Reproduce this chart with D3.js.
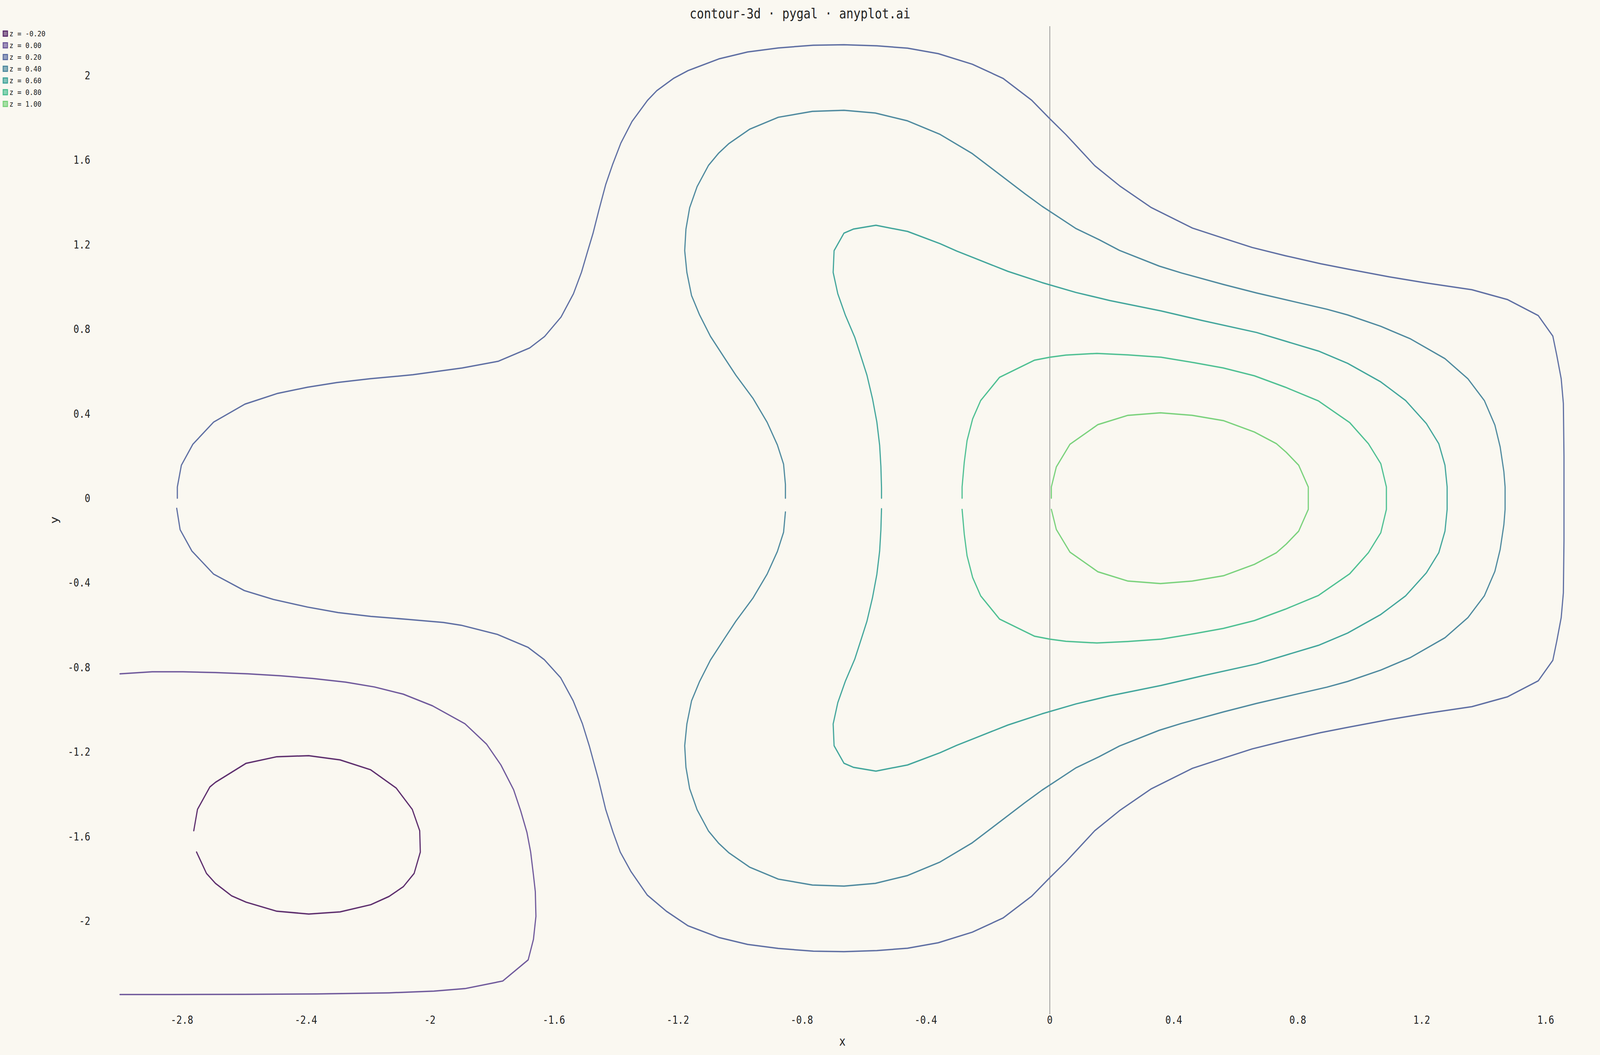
<!DOCTYPE html>
<html lang="en">
<head>
    <meta charset="UTF-8">
    <title>contour-3d · pygal · anyplot.ai</title>
    <script src="https://cdn.jsdelivr.net/npm/d3@7/dist/d3.min.js"></script>
    <style>
        html, body { margin: 0; padding: 0; overflow: hidden; background: #FAF8F1; }
        svg { display: block; width: 100vw; height: 100vh; }
        text { font-family: "DejaVu Sans Mono", monospace; fill: #222; }
    </style>
</head>
<body>
</body>
<script>
    // contour levels (legend order)
    var levels = [-0.2, 0.0, 0.2, 0.4, 0.6, 0.8, 1.0]

    // tick values
    var xTicks = [-2.8, -2.4, -2, -1.6, -1.2, -0.8, -0.4, 0, 0.4, 0.8, 1.2, 1.6]
    var yTicks = [-2, -1.6, -1.2, -0.8, -0.4, 0, 0.4, 0.8, 1.2, 1.6, 2]

    // contour lines (x, y)
    var lineM020 = [
        [-2.762, -1.573], [-2.750, -1.472], [-2.710, -1.366], [-2.692, -1.344], [-2.593, -1.254],
        [-2.494, -1.223], [-2.391, -1.218], [-2.290, -1.238], [-2.191, -1.285], [-2.109, -1.371],
        [-2.057, -1.472], [-2.033, -1.573], [-2.031, -1.674], [-2.051, -1.775], [-2.086, -1.838],
        [-2.132, -1.884], [-2.191, -1.923], [-2.290, -1.957], [-2.391, -1.967], [-2.494, -1.954],
        [-2.593, -1.911], [-2.640, -1.881], [-2.692, -1.822], [-2.721, -1.775], [-2.753, -1.674]
    ]

    var line000 = [
        [-3.000, -0.831], [-2.896, -0.821], [-2.797, -0.821], [-2.692, -0.825], [-2.587, -0.831],
        [-2.482, -0.840], [-2.377, -0.853], [-2.272, -0.870], [-2.179, -0.893], [-2.086, -0.927],
        [-1.992, -0.982], [-1.887, -1.067], [-1.817, -1.164], [-1.771, -1.262], [-1.730, -1.379],
        [-1.707, -1.480], [-1.687, -1.581], [-1.675, -1.674], [-1.666, -1.783], [-1.660, -1.861],
        [-1.658, -1.978], [-1.666, -2.087], [-1.683, -2.184], [-1.765, -2.284], [-1.887, -2.320],
        [-1.987, -2.332], [-2.132, -2.340], [-2.366, -2.345], [-2.599, -2.347], [-2.832, -2.348],
        [-3.000, -2.348]
    ]

    var line020 = [
        [-2.815, 0], [-2.815, 0.053], [-2.802, 0.156], [-2.765, 0.255], [-2.698, 0.360],
        [-2.597, 0.445], [-2.491, 0.496], [-2.395, 0.525], [-2.300, 0.547], [-2.193, 0.565],
        [-2.055, 0.584], [-1.896, 0.616], [-1.779, 0.648], [-1.678, 0.711], [-1.630, 0.765],
        [-1.577, 0.857], [-1.537, 0.967], [-1.511, 1.069], [-1.492, 1.164], [-1.474, 1.252],
        [-1.455, 1.362], [-1.433, 1.483], [-1.411, 1.577], [-1.384, 1.680], [-1.348, 1.782],
        [-1.298, 1.882], [-1.268, 1.928], [-1.213, 1.987], [-1.167, 2.023], [-1.068, 2.078],
        [-0.975, 2.111], [-0.876, 2.130], [-0.763, 2.143], [-0.664, 2.145], [-0.558, 2.140],
        [-0.459, 2.129], [-0.360, 2.103], [-0.250, 2.053], [-0.151, 1.986], [-0.058, 1.882],
        [0, 1.795], [0.052, 1.720], [0.085, 1.668], [0.145, 1.573], [0.225, 1.478],
        [0.326, 1.376], [0.460, 1.278], [0.560, 1.230], [0.653, 1.186], [0.760, 1.147],
        [0.874, 1.109], [0.961, 1.084], [1.095, 1.047], [1.215, 1.018], [1.362, 0.986],
        [1.476, 0.940], [1.576, 0.864], [1.623, 0.767], [1.636, 0.674], [1.650, 0.565],
        [1.657, 0.448], [1.659, 0.199], [1.659, 0],
        [1.659, -0.199], [1.657, -0.448], [1.650, -0.565], [1.636, -0.674], [1.623, -0.767],
        [1.576, -0.864], [1.476, -0.940], [1.362, -0.986], [1.215, -1.018], [1.095, -1.047],
        [0.961, -1.084], [0.874, -1.109], [0.760, -1.147], [0.653, -1.186], [0.560, -1.230],
        [0.460, -1.278], [0.326, -1.376], [0.225, -1.478], [0.145, -1.573], [0.085, -1.668],
        [0.052, -1.720], [0, -1.795], [-0.058, -1.882], [-0.151, -1.986], [-0.250, -2.053],
        [-0.360, -2.103], [-0.459, -2.129], [-0.558, -2.140], [-0.664, -2.145], [-0.763, -2.143],
        [-0.876, -2.130], [-0.975, -2.111], [-1.068, -2.078], [-1.167, -2.023], [-1.237, -1.954],
        [-1.299, -1.877], [-1.351, -1.767], [-1.386, -1.674], [-1.409, -1.581], [-1.433, -1.472],
        [-1.456, -1.332], [-1.485, -1.176], [-1.508, -1.067], [-1.538, -0.958], [-1.578, -0.850],
        [-1.631, -0.764], [-1.683, -0.706], [-1.783, -0.644], [-1.899, -0.601], [-1.957, -0.588],
        [-2.074, -0.573], [-2.191, -0.559], [-2.296, -0.541], [-2.395, -0.515], [-2.505, -0.479],
        [-2.599, -0.437], [-2.698, -0.359], [-2.768, -0.250], [-2.806, -0.149], [-2.817, -0.048]
    ]

    var line040 = [
        [-0.853, 0], [-0.853, 0.065], [-0.859, 0.161], [-0.879, 0.252], [-0.912, 0.359],
        [-0.958, 0.473], [-1.013, 0.582], [-1.048, 0.660], [-1.095, 0.766], [-1.130, 0.867],
        [-1.156, 0.959], [-1.171, 1.068], [-1.178, 1.171], [-1.174, 1.273], [-1.162, 1.374],
        [-1.138, 1.474], [-1.101, 1.575], [-1.068, 1.633], [-1.035, 1.678], [-0.969, 1.745],
        [-0.876, 1.802], [-0.766, 1.830], [-0.664, 1.835], [-0.563, 1.822], [-0.459, 1.785],
        [-0.354, 1.721], [-0.250, 1.630], [-0.146, 1.514], [-0.080, 1.440], [-0.025, 1.381],
        [0.030, 1.328], [0.085, 1.275], [0.159, 1.223], [0.225, 1.172], [0.353, 1.098],
        [0.426, 1.065], [0.560, 1.011], [0.667, 0.971], [0.787, 0.930], [0.894, 0.894],
        [0.961, 0.867], [1.068, 0.813], [1.162, 0.755], [1.275, 0.660], [1.349, 0.565],
        [1.402, 0.462], [1.436, 0.346], [1.453, 0.243], [1.465, 0.126], [1.469, 0.053],
        [1.469, 0],
        [1.469, -0.053], [1.465, -0.126], [1.453, -0.243], [1.436, -0.346], [1.402, -0.462],
        [1.349, -0.565], [1.275, -0.660], [1.162, -0.755], [1.068, -0.813], [0.961, -0.867],
        [0.894, -0.894], [0.787, -0.930], [0.667, -0.971], [0.560, -1.011], [0.426, -1.065],
        [0.353, -1.098], [0.225, -1.172], [0.159, -1.223], [0.085, -1.275], [0.030, -1.328],
        [-0.025, -1.381], [-0.080, -1.440], [-0.146, -1.514], [-0.250, -1.630], [-0.354, -1.721],
        [-0.459, -1.785], [-0.563, -1.822], [-0.664, -1.835], [-0.766, -1.830], [-0.876, -1.802],
        [-0.969, -1.745], [-1.035, -1.678], [-1.068, -1.633], [-1.101, -1.575], [-1.138, -1.474],
        [-1.162, -1.374], [-1.174, -1.273], [-1.178, -1.171], [-1.171, -1.068], [-1.156, -0.959],
        [-1.130, -0.867], [-1.095, -0.766], [-1.048, -0.660], [-1.013, -0.582], [-0.958, -0.473],
        [-0.912, -0.359], [-0.879, -0.252], [-0.859, -0.161], [-0.853, -0.065]
    ]

    var line060 = [
        [-0.543, 0], [-0.543, 0.050], [-0.545, 0.150], [-0.549, 0.250], [-0.558, 0.360],
        [-0.572, 0.470], [-0.590, 0.582], [-0.607, 0.660], [-0.629, 0.760], [-0.660, 0.867],
        [-0.684, 0.967], [-0.699, 1.068], [-0.696, 1.171], [-0.664, 1.254], [-0.634, 1.273],
        [-0.561, 1.291], [-0.459, 1.262], [-0.354, 1.204], [-0.300, 1.169], [-0.245, 1.137],
        [-0.135, 1.073], [-0.025, 1.020], [0.085, 0.973], [0.194, 0.935], [0.359, 0.886],
        [0.493, 0.840], [0.667, 0.784], [0.760, 0.743], [0.867, 0.696], [0.961, 0.638],
        [1.068, 0.550], [1.148, 0.462], [1.215, 0.353], [1.255, 0.258], [1.275, 0.156],
        [1.282, 0.053], [1.282, 0],
        [1.282, -0.053], [1.275, -0.156], [1.255, -0.258], [1.215, -0.353], [1.148, -0.462],
        [1.068, -0.550], [0.961, -0.638], [0.867, -0.696], [0.760, -0.743], [0.667, -0.784],
        [0.493, -0.840], [0.359, -0.886], [0.194, -0.935], [0.085, -0.973], [-0.025, -1.020],
        [-0.135, -1.073], [-0.245, -1.137], [-0.300, -1.169], [-0.354, -1.204], [-0.459, -1.262],
        [-0.561, -1.291], [-0.634, -1.273], [-0.664, -1.254], [-0.696, -1.171], [-0.699, -1.068],
        [-0.684, -0.967], [-0.660, -0.867], [-0.629, -0.760], [-0.607, -0.660], [-0.590, -0.582],
        [-0.572, -0.470], [-0.558, -0.360], [-0.549, -0.250], [-0.545, -0.150], [-0.543, -0.050]
    ]

    var line080 = [
        [-0.283, 0], [-0.283, 0.053], [-0.276, 0.170], [-0.267, 0.272], [-0.249, 0.375],
        [-0.223, 0.462], [-0.162, 0.572], [-0.049, 0.653], [0, 0.667], [0.052, 0.677],
        [0.152, 0.685], [0.252, 0.678], [0.359, 0.667], [0.466, 0.641], [0.560, 0.616],
        [0.660, 0.579], [0.760, 0.525], [0.867, 0.460], [0.968, 0.357], [1.028, 0.258],
        [1.068, 0.163], [1.086, 0.053], [1.086, 0],
        [1.086, -0.053], [1.068, -0.163], [1.028, -0.258], [0.968, -0.357], [0.867, -0.460],
        [0.760, -0.525], [0.660, -0.579], [0.560, -0.616], [0.466, -0.641], [0.359, -0.667],
        [0.252, -0.678], [0.152, -0.685], [0.052, -0.677], [0, -0.667], [-0.049, -0.653],
        [-0.162, -0.572], [-0.223, -0.462], [-0.249, -0.375], [-0.267, -0.272], [-0.276, -0.170],
        [-0.283, -0.053]
    ]

    var line100 = [
        [0.005, 0], [0.005, 0.053], [0.021, 0.148], [0.065, 0.255], [0.155, 0.348],
        [0.252, 0.392], [0.357, 0.404], [0.460, 0.392], [0.560, 0.367], [0.660, 0.313],
        [0.731, 0.258], [0.763, 0.217], [0.803, 0.156], [0.834, 0.053], [0.834, 0],
        [0.834, -0.053], [0.803, -0.156], [0.763, -0.217], [0.731, -0.258], [0.660, -0.313],
        [0.560, -0.367], [0.460, -0.392], [0.357, -0.404], [0.252, -0.392], [0.155, -0.348],
        [0.065, -0.255], [0.021, -0.148], [0.005, -0.053]
    ]

    var lines = [lineM020, line000, line020, line040, line060, line080, line100]
    var closed = [true, false, true, true, true, true, true]

    // palette (viridis-like, as seen on the picture)
    var colors = ['#5e2f6e', '#705a9c', '#5f6fa3', '#4f8a9f', '#43a69c', '#4fc093', '#7bd27d']

    var width = 4800
    var height = 2700

    var svg = d3.select('body')
        .append('svg')
        .attr('viewBox', '0 0 ' + width + ' ' + height)
        .attr('preserveAspectRatio', 'none');

    svg.append('rect')
        .attr('width', width)
        .attr('height', height)
        .attr('fill', '#FAF8F1');

    var x = d3.scaleLinear().domain([-3, 1.6]).range([360, 4637.1]);
    var y = d3.scaleLinear().domain([-2, 2]).range([2357, 193]);

    // title
    svg.append('text')
        .attr('x', 2400)
        .attr('y', 47)
        .attr('text-anchor', 'middle')
        .style('font-size', '35.5px')
        .text('contour-3d · pygal · anyplot.ai');

    // zero line on x
    svg.append('line')
        .attr('x1', x(0)).attr('x2', x(0))
        .attr('y1', 67).attr('y2', 2596)
        .attr('stroke', '#8a8a8a')
        .attr('stroke-width', 2);

    // tick labels
    var fmt = function (v) { return String(+v.toFixed(1)); };

    svg.append('g').selectAll('text')
        .data(xTicks)
        .enter().append('text')
        .attr('x', function (d) { return x(d); })
        .attr('y', 2620)
        .attr('text-anchor', 'middle')
        .style('font-size', '28px')
        .text(fmt);

    svg.append('g').selectAll('text')
        .data(yTicks)
        .enter().append('text')
        .attr('x', 271)
        .attr('y', function (d) { return y(d) + 10; })
        .attr('text-anchor', 'end')
        .style('font-size', '28px')
        .text(fmt);

    // axis titles
    svg.append('text')
        .attr('x', 2527)
        .attr('y', 2676)
        .attr('text-anchor', 'middle')
        .style('font-size', '32px')
        .text('x');

    svg.append('text')
        .attr('transform', 'translate(173,1331) rotate(-90)')
        .attr('text-anchor', 'middle')
        .style('font-size', '32px')
        .text('y');

    // contour lines; closed rings wrap back to their first point
    var path = d3.line()
        .x(function (d) { return x(d[0]); })
        .y(function (d) { return y(d[1]); });

    svg.append('g').selectAll('path')
        .data(lines)
        .enter().append('path')
        .attr('d', function (d, i) { return path(closed[i] ? d.concat([d[0]]) : d); })
        .attr('fill', 'none')
        .attr('stroke', function (d, i) { return colors[i]; })
        .attr('stroke-width', 3.5)
        .attr('stroke-linejoin', 'round')
        .attr('stroke-linecap', 'round');

    // legend
    var legend = svg.append('g').selectAll('g')
        .data(levels)
        .enter().append('g')
        .attr('transform', function (d, i) { return 'translate(0,' + (i * 30) + ')'; });

    legend.append('rect')
        .attr('x', 9.5)
        .attr('y', 79.5)
        .attr('width', 13)
        .attr('height', 13)
        .attr('fill', function (d, i) { return colors[i]; })
        .attr('fill-opacity', 0.65)
        .attr('stroke', function (d, i) { return colors[i]; })
        .attr('stroke-width', 3);

    legend.append('text')
        .attr('x', 28)
        .attr('y', 93)
        .style('font-size', '20px')
        .text(function (d) { return 'z = ' + d.toFixed(2); });
</script>
</html>
